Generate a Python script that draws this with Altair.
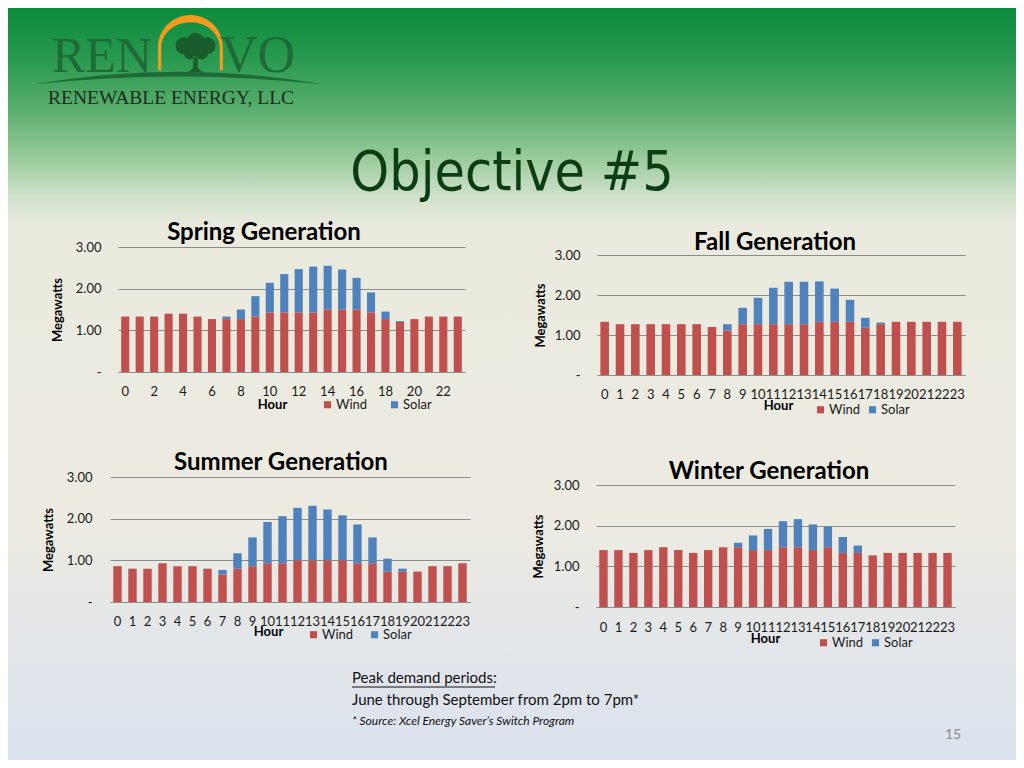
import altair as alt
import pandas as pd

# ---------------- data ----------------
hours = list(range(24))

spring_wind = [1.33, 1.33, 1.33, 1.40, 1.40, 1.33, 1.27, 1.27, 1.27, 1.33, 1.43, 1.43,
               1.43, 1.43, 1.50, 1.50, 1.50, 1.43, 1.27, 1.20, 1.27, 1.33, 1.33, 1.33]
spring_solar = [0, 0, 0, 0, 0, 0, 0, 0.06, 0.23, 0.49, 0.71, 0.92,
                1.04, 1.10, 1.05, 0.96, 0.76, 0.48, 0.18, 0.02, 0, 0, 0, 0]

fall_wind = [1.33, 1.27, 1.27, 1.27, 1.27, 1.27, 1.27, 1.20, 1.11, 1.27, 1.27, 1.27,
             1.27, 1.27, 1.33, 1.33, 1.33, 1.18, 1.27, 1.33, 1.33, 1.33, 1.33, 1.33]
fall_solar = [0, 0, 0, 0, 0, 0, 0, 0, 0.16, 0.41, 0.66, 0.91,
              1.06, 1.06, 1.01, 0.83, 0.55, 0.25, 0.04, 0, 0, 0, 0, 0]

summer_wind = [0.86, 0.80, 0.80, 0.93, 0.86, 0.86, 0.80, 0.66, 0.80, 0.86, 0.93, 0.93,
               1.00, 1.00, 1.00, 1.00, 0.93, 0.93, 0.73, 0.73, 0.73, 0.86, 0.86, 0.93]
summer_solar = [0, 0, 0, 0, 0, 0, 0, 0.11, 0.37, 0.69, 0.99, 1.13,
                1.26, 1.31, 1.22, 1.08, 0.93, 0.62, 0.31, 0.07, 0, 0, 0, 0]

winter_wind = [1.40, 1.40, 1.33, 1.40, 1.47, 1.40, 1.33, 1.40, 1.47, 1.47, 1.40, 1.40,
               1.47, 1.47, 1.40, 1.47, 1.33, 1.33, 1.27, 1.33, 1.33, 1.33, 1.33, 1.33]
winter_solar = [0, 0, 0, 0, 0, 0, 0, 0, 0, 0.11, 0.36, 0.52,
                0.64, 0.69, 0.63, 0.51, 0.39, 0.18, 0, 0, 0, 0, 0, 0]

series_names = ["Wind", "Solar"]
series_colors = ["#c0504d", "#4f81bd"]
y_ticks = [0, 1, 2, 3]
spring_labels = list(range(0, 24, 2))

slide_title = "Objective #5"
footer_head = "Peak demand periods:"
footer_line = "June through September from 2pm to 7pm*"
footer_source = "* Source: Xcel Energy Saver\u2019s Switch Program"
page_number = "15"

FONT = "Lato"
W, H = 1008, 752


def season_df(wind, solar):
    rows = []
    for h, w, s in zip(hours, wind, solar):
        rows.append({"Hour": h, "Series": "Wind", "Megawatts": w, "k": 0})
        rows.append({"Hour": h, "Series": "Solar", "Megawatts": s, "k": 1})
    return pd.DataFrame(rows)


def panel(title, wind, solar, w, h, x_range, y_max, labels, lab_pad, ylab_pad,
          hour_x, hour_y, leg_x, leg_y, leg_gap, mw_x, mw_y, t_dx, t_dy):
    df = season_df(wind, solar)
    xs = dict(paddingInner=0.44, paddingOuter=0.22)
    if x_range is not None:
        xs["range"] = x_range
    x = alt.X("Hour:O",
              scale=alt.Scale(**xs),
              axis=alt.Axis(title="Hour", values=labels, labelAngle=0, ticks=False,
                            tickSize=0, domain=True, domainColor="#8c8c8c",
                            labelFont=FONT, labelFontSize=13, labelColor="#1a1a1a",
                            labelPadding=lab_pad, titleFont=FONT, titleFontSize=13,
                            titleFontWeight="bold", titleColor="#000000",
                            titleX=hour_x, titleY=hour_y, titleAlign="center",
                            titleBaseline="middle"))
    y = alt.Y("Megawatts:Q", stack="zero",
              scale=alt.Scale(domain=[0, y_max], nice=False),
              axis=alt.Axis(values=y_ticks,
                            labelExpr="datum.value == 0 ? '-\u2007' : format(datum.value, '.2f')",
                            grid=True, gridColor="#8c8c8c", gridWidth=1, domain=False,
                            ticks=False, tickSize=0, labelPadding=ylab_pad,
                            labelFont=FONT, labelFontSize=13, labelColor="#1a1a1a",
                            title="Megawatts", titleFont=FONT, titleFontSize=13,
                            titleFontWeight="bold", titleColor="#000000",
                            titleX=mw_x, titleY=mw_y, titleBaseline="middle"))
    color = alt.Color("Series:N",
                      scale=alt.Scale(domain=series_names, range=series_colors),
                      legend=alt.Legend(title=None, orient="none", direction="horizontal",
                                        legendX=leg_x, legendY=leg_y, symbolType="square",
                                        symbolSize=50, symbolStrokeWidth=0,
                                        labelFont=FONT, labelFontSize=13,
                                        labelColor="#1a1a1a", labelOffset=2,
                                        columnPadding=leg_gap))
    return alt.Chart(df).mark_bar().encode(
        x=x, y=y, color=color, order=alt.Order("k:Q", sort="ascending")
    ).properties(
        width=w, height=h,
        title=alt.TitleParams(title, font=FONT, fontSize=24, fontWeight="bold",
                              color="#000000", anchor="middle", frame="group",
                              dx=t_dx, dy=t_dy, offset=0, baseline="middle"))


def spacer(w, h):
    return alt.Chart(pd.DataFrame({"v": [0]})).mark_point(
        opacity=0, size=0, strokeWidth=0, filled=True).encode(
        x=alt.value(1), y=alt.value(1)).properties(width=w, height=h)


one = pd.DataFrame({"v": [0]})

# ---------------- header (slide background + logo + title) ----------------
bg_stops = [(0.0, "#0b8b3d"), (0.07, "#2a9a50"), (0.136, "#5aae6e"), (0.2, "#9acb9c"),
            (0.25, "#cfe0cb"), (0.289, "#eaeadf"), (0.68, "#edebe1"), (0.867, "#e1e5ea"),
            (1.0, "#dce3ee")]
gradient = alt.LinearGradient(gradient="linear",
                              stops=[alt.GradientStop(color=c, offset=o) for o, c in bg_stops],
                              x1=0, x2=0, y1=0, y2=1)
bg = alt.Chart(one).mark_rect(color=gradient).encode(
    x=alt.value(0), x2=alt.value(W), y=alt.value(0), y2=alt.value(H))

arch_path = ("M -1 0.7 L -1 0 A 1 1 0 0 1 1 0 L 1 0.7 L 0.9 0.7 L 0.9 0 "
             "A 0.9 0.78 0 0 0 -0.9 0 L -0.9 0.7 Z")
crown = [(-0.55, -0.3, 0.4), (0.0, -0.5, 0.42), (0.55, -0.3, 0.4), (-0.25, 0.05, 0.3), (0.3, 0.05, 0.3)]
tree_path = " ".join(
    f"M {cx - r:.2f} {cy:.2f} A {r} {r} 0 1 0 {cx + r:.2f} {cy:.2f} A {r} {r} 0 1 0 {cx - r:.2f} {cy:.2f} Z"
    for cx, cy, r in crown
) + " M -0.1 0.2 L 0.1 0.2 L 0.12 0.75 Q 0.2 0.9 0.42 0.97 L -0.42 0.97 Q -0.2 0.9 -0.12 0.75 Z"
swoosh_path = "M -1 0.045 Q 0 -0.13 1 0.045 Q 0 -0.065 -1 0.045 Z"

swoosh = alt.Chart(one).mark_point(shape=swoosh_path, filled=True, fill="#1e6b37",
                                   strokeWidth=0, opacity=1, size=292 * 292).encode(
    x=alt.value(171), y=alt.value(70))
arch = alt.Chart(one).mark_point(shape=arch_path, filled=True, fill="#f29a1d",
                                 strokeWidth=0, opacity=1, size=65 * 65).encode(
    x=alt.value(182.5), y=alt.value(39.5))
tree = alt.Chart(one).mark_point(shape=tree_path, filled=True, fill="#1b5c2c",
                                 strokeWidth=0, opacity=1, size=42 * 42).encode(
    x=alt.value(187.5), y=alt.value(44))
ren = alt.Chart(one).mark_text(text="REN", font="Liberation Serif", fontSize=50,
                               color="#1e6b37", align="left", baseline="alphabetic").encode(
    x=alt.value(44), y=alt.value(64))
vo = alt.Chart(one).mark_text(text="VO", font="Liberation Serif", fontSize=52,
                              color="#1e6b37", align="left", baseline="alphabetic").encode(
    x=alt.value(212), y=alt.value(64))
renew = alt.Chart(one).mark_text(text="RENEWABLE ENERGY, LLC", font="Liberation Serif",
                                 fontSize=19.5, color="#1d2b1d", align="left",
                                 baseline="alphabetic").encode(
    x=alt.value(40), y=alt.value(96))
title = alt.Chart(one).mark_text(text=slide_title,
                                 font="'DejaVu Sans Condensed', 'DejaVu Sans'",
                                 fontSize=55, color="#0d3d12", align="center",
                                 baseline="alphabetic").encode(
    x=alt.value(504), y=alt.value(182))

header = alt.layer(bg, swoosh, arch, tree, ren, vo, renew, title).properties(width=102, height=239)

# ---------------- the four panels ----------------
#   title, wind, solar, w, h, x_range, y_max, labels, lab_pad, ylab_pad,
#   hour_x, hour_y, leg_x, leg_y, leg_gap, mw_x, mw_y, t_dx, t_dy
spring = panel("Spring Generation", spring_wind, spring_solar, 355, 125, [8, 355], 3.0,
               spring_labels, 13, 9, 162, 32, 211, 151, 20, -53, 62.5, -23.5, 16)
fall = panel("Fall Generation", fall_wind, fall_solar, 369, 128, [1, 369], 3.2,
             hours, 13, 16, 182, 30, 218, 156, 5, -56, 68, -5.5, 20)
summer = panel("Summer Generation", summer_wind, summer_solar, 360, 125, None, 3.0,
               hours, 13, 18, 158, 29, 197, 151, 14, -62, 62.5, -9, 16)
winter = panel("Winter Generation", winter_wind, winter_solar, 359, 130, None, 3 * 130 / 122,
               hours, 14, 17, 169, 31, 221, 159, 5, -58, 69, -6.5, 19)

# ---------------- footer ----------------
f_head = alt.Chart(one).mark_text(text=footer_head, font=FONT, fontSize=15, color="#111111",
                                  align="left", baseline="middle").encode(
    x=alt.value(344), y=alt.value(71))
f_rule = alt.Chart(one).mark_rule(color="#111111", strokeWidth=1).encode(
    x=alt.value(344), x2=alt.value(487), y=alt.value(80))
f_line = alt.Chart(one).mark_text(text=footer_line, font=FONT, fontSize=15, color="#111111",
                                  align="left", baseline="middle").encode(
    x=alt.value(344), y=alt.value(93))
f_src = alt.Chart(one).mark_text(text=footer_source, font=FONT, fontSize=12, fontStyle="italic",
                                 color="#111111", align="left", baseline="middle").encode(
    x=alt.value(344), y=alt.value(114))
f_num = alt.Chart(one).mark_text(text=page_number, font=FONT, fontSize=14, color="#8c8c8c",
                                 align="center", baseline="middle").encode(
    x=alt.value(945), y=alt.value(128))
footer = alt.layer(f_head, f_rule, f_line, f_src, f_num).properties(width=102, height=153)

# ---------------- grid: 4 columns, flush bounds ----------------
cells = [
    header, spacer(1, 1), spacer(1, 1), spacer(1, 1),
    spacer(102, 1), spring, spacer(126, 1), fall,
    spacer(1, 102), spacer(1, 1), spacer(1, 1), spacer(1, 1),
    spacer(1, 1), summer, spacer(1, 1), winter,
    footer, spacer(1, 1), spacer(1, 1), spacer(1, 1),
]

chart = alt.concat(*cells, columns=4, spacing=0, bounds="flush").resolve_scale(
    color="independent").resolve_legend(color="independent").properties(
    padding=0, background="#edebe1"
).configure_view(strokeWidth=0)

chart.save("out.html", embed_options={"renderer": "svg", "actions": False})
